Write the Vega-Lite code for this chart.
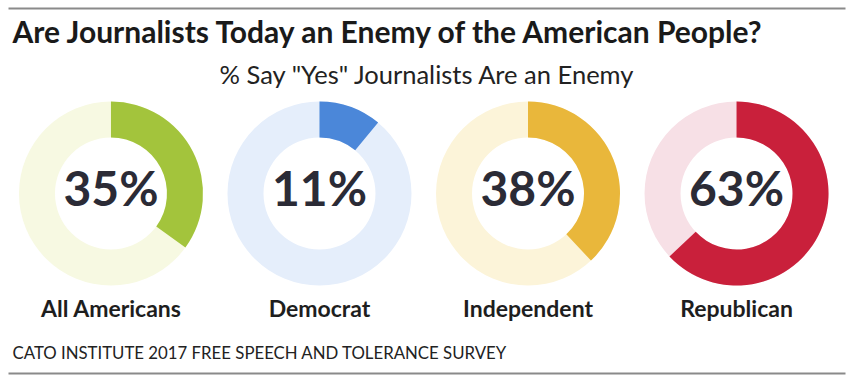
{
  "$schema": "https://vega.github.io/schema/vega-lite/v6.json",
  "width": 837,
  "height": 365,
  "autosize": {"type": "none"},
  "padding": {"left": 8, "top": 11, "right": 4, "bottom": 5},
  "background": "white",
  "config": {"view": {"stroke": null}, "font": "Lato"},
  "data": {
    "values": [
      {"group": "All Americans", "share": 0.35},
      {"group": "Democrat", "share": 0.11},
      {"group": "Independent", "share": 0.38},
      {"group": "Republican", "share": 0.63}
    ]
  },
  "layer": [
    {
      "mark": {"type": "arc", "outerRadius": 92, "innerRadius": 56},
      "encoding": {
        "x": {
          "field": "group", "type": "nominal", "sort": null,
          "scale": {"type": "point", "padding": 0.507, "align": 0.487},
          "axis": {
            "orient": "bottom", "offset": -3, "labels": false, "ticks": false, "grid": false,
            "domain": true, "domainColor": "#8a8a8a", "domainWidth": 2,
            "title": "CATO INSTITUTE 2017 FREE SPEECH AND TOLERANCE SURVEY",
            "titleX": 4, "titleY": -15, "titleAlign": "left", "titleBaseline": "alphabetic",
            "titleFont": "Lato", "titleFontSize": 16.8, "titleFontWeight": "normal", "titleColor": "#222222"
          }
        },
        "theta": {"datum": 1, "type": "quantitative", "scale": {"domain": [0, 1]}},
        "theta2": {"datum": 0},
        "color": {
          "field": "group", "type": "nominal", "sort": null,
          "scale": {"domain": ["All Americans", "Democrat", "Independent", "Republican"], "range": ["#f7f9e2", "#e5eefb", "#fcf4d9", "#f7e0e6"]},
          "legend": null
        }
      }
    },
    {
      "mark": {"type": "arc", "outerRadius": 92, "innerRadius": 56},
      "encoding": {
        "x": {"field": "group", "type": "nominal", "sort": null, "scale": {"type": "point", "padding": 0.507, "align": 0.487}, "axis": null},
        "theta": {"field": "share", "type": "quantitative", "scale": {"domain": [0, 1]}},
        "theta2": {"datum": 0},
        "color": {
          "field": "group", "type": "nominal", "sort": null,
          "scale": {"domain": ["All Americans", "Democrat", "Independent", "Republican"], "range": ["#a3c43c", "#4b87d9", "#e9b73b", "#c9203b"]},
          "legend": null
        }
      }
    },
    {
      "mark": {"type": "text", "fontSize": 48, "fontWeight": "bold", "baseline": "alphabetic", "align": "center", "dy": 12, "color": "#2b2b36", "font": "Lato"},
      "encoding": {
        "x": {
          "field": "group", "type": "nominal", "sort": null,
          "scale": {"type": "point", "padding": 0.507, "align": 0.487},
          "axis": {
            "orient": "top", "offset": 3, "labels": false, "ticks": false, "grid": false,
            "domain": true, "domainColor": "#8a8a8a", "domainWidth": 2,
            "title": "Are Journalists Today an Enemy of the American People?",
            "titleX": 4, "titleY": 34, "titleAlign": "left", "titleBaseline": "alphabetic",
            "titleFont": "Lato", "titleFontSize": 30, "titleFontWeight": "bold", "titleColor": "#1a1a1a"
          }
        },
        "text": {"field": "share", "type": "quantitative", "format": ".0%"}
      }
    },
    {
      "mark": {"type": "text", "fontSize": 23, "fontWeight": "bold", "baseline": "alphabetic", "align": "center", "dy": 123, "color": "#1e1e1e", "font": "Lato"},
      "encoding": {
        "x": {"field": "group", "type": "nominal", "sort": null, "scale": {"type": "point", "padding": 0.507, "align": 0.487}, "axis": null},
        "text": {"field": "group", "type": "nominal"}
      }
    },
    {
      "data": {"values": [{"subtitle": "% Say \"Yes\" Journalists Are an Enemy"}]},
      "mark": {"type": "text", "fontSize": 25.5, "baseline": "alphabetic", "align": "center", "dy": -110, "color": "#222222", "font": "Lato"},
      "encoding": {
        "text": {"field": "subtitle", "type": "nominal"}
      }
    }
  ],
  "resolve": {"scale": {"color": "independent"}, "axis": {"x": "independent"}}
}
